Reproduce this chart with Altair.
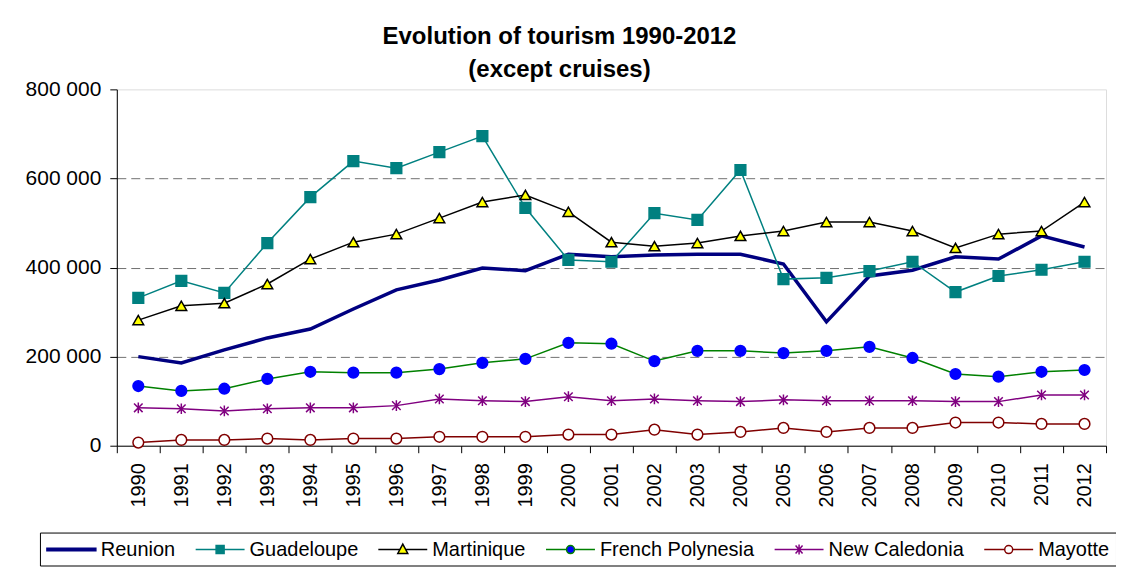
import altair as alt
import pandas as pd

years = [str(y) for y in range(1990, 2013)]

series_names = ["Reunion", "Guadeloupe", "Martinique", "French Polynesia", "New Caledonia", "Mayotte"]

reunion = [200000, 186000, 215000, 242000, 262000, 307000, 350000, 372000, 399000, 393000, 430000, 424000,
           428000, 430000, 430000, 408000, 278000, 381000, 394000, 424000, 419000, 471000, 446000]
guadeloupe = [332000, 370000, 343000, 455000, 558000, 639000, 623000, 659000, 695000, 534000, 417000, 413000,
              522000, 507000, 619000, 374000, 377000, 392000, 413000, 345000, 381000, 395000, 413000]
martinique = [282000, 314000, 320000, 363000, 419000, 457000, 475000, 511000, 547000, 563000, 525000, 457000,
              448000, 455000, 471000, 482000, 502000, 502000, 482000, 444000, 475000, 482000, 547000]
french_polynesia = [134000, 123000, 128000, 150000, 166000, 164000, 164000, 172000, 186000, 195000, 231000, 229000,
                    190000, 213000, 213000, 208000, 213000, 222000, 197000, 161000, 155000, 166000, 170000]
new_caledonia = [85000, 83000, 78000, 83000, 85000, 85000, 90000, 105000, 101000, 99000, 110000, 101000,
                 105000, 101000, 99000, 103000, 101000, 101000, 101000, 99000, 99000, 114000, 114000]
mayotte = [7000, 13000, 13000, 16000, 13000, 16000, 16000, 20000, 20000, 20000, 25000, 25000,
           36000, 25000, 31000, 40000, 31000, 40000, 40000, 52000, 52000, 49000, 49000]

all_values = [reunion, guadeloupe, martinique, french_polynesia, new_caledonia, mayotte]

line_colors = ["#000080", "#008080", "#000000", "#008000", "#800080", "#800000"]
marker_fills = ["#000080", "#008080", "#FFFF00", "#0000FF", "#800080", "#FFFFFF"]
marker_strokes = ["#000080", "#008080", "#000000", "#0000FF", "#800080", "#800000"]

asterisk = "M0,-1L0,1M-0.8,-0.8L0.8,0.8M-0.8,0.8L0.8,-0.8"
marker_shapes = ["circle", "square", "triangle-up", "circle", asterisk, "circle"]

# legend symbols: a line segment with the series' marker in its middle
legend_shapes = [
    "M-1,-0.12L3.9,-0.12L3.9,0.12L-1,0.12Z",
    "M-1,0L3.9,0M1.05,-0.4L1.85,-0.4L1.85,0.4L1.05,0.4Z",
    "M-1,0L1.16,0M1.74,0L3.9,0M1.45,-0.55L1.95,0.4L0.95,0.4Z",
    "M-1,0L1.05,0M1.85,0L3.9,0M1.05,0A0.4,0.4 0 1,0 1.85,0A0.4,0.4 0 1,0 1.05,0Z",
    "M-1,0L3.9,0M1.45,-0.5L1.45,0.5M1.1,-0.4L1.8,0.4M1.1,0.4L1.8,-0.4",
    "M-1,0L1.05,0M1.85,0L3.9,0M1.05,0A0.4,0.4 0 1,0 1.85,0A0.4,0.4 0 1,0 1.05,0Z",
]

rows = []
for name, vals in zip(series_names, all_values):
    for y, v in zip(years, vals):
        rows.append({"year": y, "series": name, "value": v})
df = pd.DataFrame(rows)

FONT = "Liberation Sans"

x_enc = alt.X(
    "year:O",
    scale=alt.Scale(type="band", paddingInner=0, paddingOuter=0, domain=years),
    bandPosition=0.5,
    axis=alt.Axis(
        title=None, labelAngle=270, labelFontSize=20, labelFont=FONT, labelColor="black",
        tickBand="extent", tickSize=7, tickColor="black", domainColor="black",
        labelPadding=10, grid=False,
    ),
)
y_enc = alt.Y(
    "value:Q",
    scale=alt.Scale(domain=[0, 800000], nice=False),
    axis=alt.Axis(
        title=None, values=[0, 200000, 400000, 600000, 800000],
        labelExpr="replace(format(datum.value, ','), ',', ' ')",
        labelFontSize=21, labelFont=FONT, labelColor="black", labelPadding=9,
        tickSize=7, tickColor="black", domainColor="black",
        grid=True, gridColor="#707070", gridDash=[9, 5], gridWidth=1,
        gridOpacity={"condition": {"test": "datum.value == 0 || datum.value == 800000", "value": 0}, "value": 1},
    ),
)

base = alt.Chart(df)

line_reunion = base.transform_filter(alt.datum.series == "Reunion").mark_line(
    strokeWidth=3.5, opacity=1
).encode(
    x=x_enc, y=y_enc,
    color=alt.Color("series:N", scale=alt.Scale(domain=series_names, range=line_colors), legend=None),
)

line_others = base.transform_filter(alt.datum.series != "Reunion").mark_line(
    strokeWidth=1.5, opacity=1
).encode(
    x=x_enc, y=y_enc,
    color=alt.Color("series:N", scale=alt.Scale(domain=series_names, range=line_colors), legend=None),
    detail="series:N",
)

points = base.transform_filter(alt.datum.series != "Reunion").mark_point(
    size=115, opacity=1, strokeWidth=1.5, filled=False
).encode(
    x=x_enc, y=y_enc,
    shape=alt.Shape("series:N", scale=alt.Scale(domain=series_names, range=marker_shapes), legend=None),
    fill=alt.Fill("series:N", scale=alt.Scale(domain=series_names, range=marker_fills), legend=None),
    stroke=alt.Stroke("series:N", scale=alt.Scale(domain=series_names, range=marker_strokes), legend=None),
)

legend_layer = base.transform_filter("false").mark_point(opacity=1, strokeWidth=1.5).encode(
    x=x_enc, y=y_enc,
    shape=alt.Shape("series:N", scale=alt.Scale(domain=series_names, range=legend_shapes),
                    legend=alt.Legend(
                        orient="none", legendX=-77, legendY=444, direction="horizontal", title=None,
                        labelFontSize=20, labelFont=FONT, labelColor="black", symbolSize=400,
                        symbolStrokeWidth=1.5, symbolOpacity=1, strokeColor="black", fillColor="white",
                        padding=6, columnPadding=17, labelOffset=33, labelLimit=300,
                    )),
    fill=alt.Fill("series:N", scale=alt.Scale(domain=series_names, range=marker_fills)),
    stroke=alt.Stroke("series:N", scale=alt.Scale(domain=series_names, range=line_colors)),
)

chart = alt.layer(line_reunion, line_others, points, legend_layer).resolve_scale(
    shape="independent", fill="independent", stroke="independent"
).properties(
    width=991, height=357,
    padding={"left": 109, "top": 81, "right": 10, "bottom": 125},
    autosize=alt.AutoSizeParams(type="none"),
    title=alt.TitleParams(
        text=["Evolution of tourism 1990-2012", "(except cruises)"],
        fontSize=24, fontWeight="bold", font=FONT, color="black", lineHeight=33,
        anchor="middle", frame="group", offset=-4, dx=-52,
    ),
).configure_view(stroke="black", strokeWidth=1.5).configure(background="white")

chart.save("out.html", embed_options={"renderer": "svg", "actions": False})
